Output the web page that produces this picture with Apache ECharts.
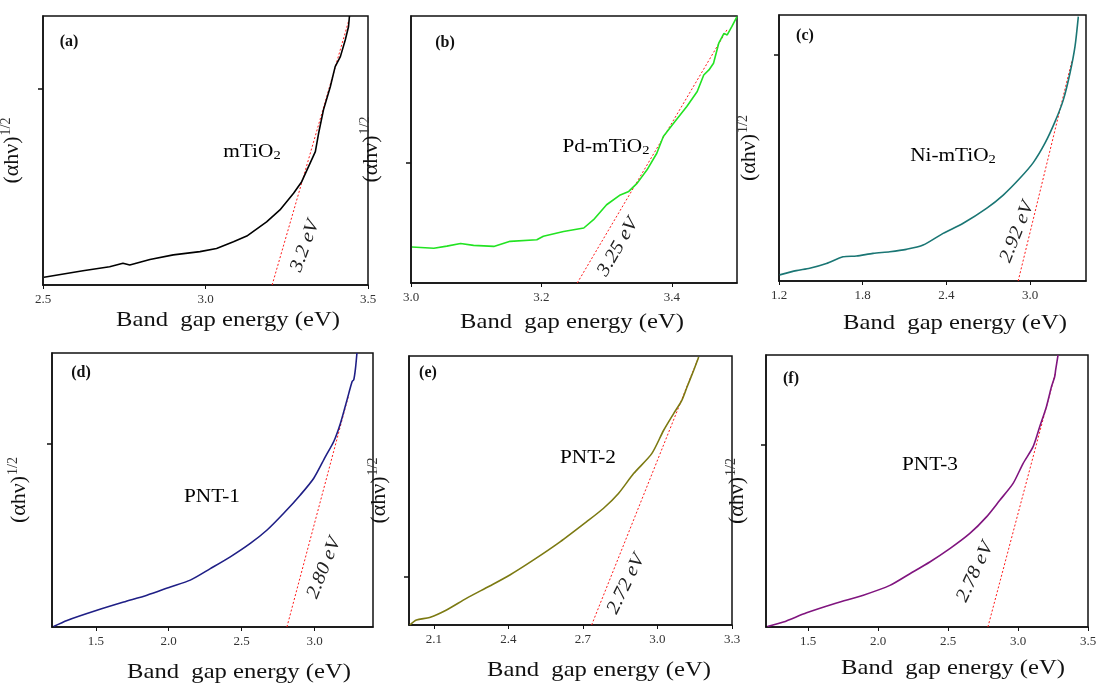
<!DOCTYPE html>
<html>
<head>
<meta charset="utf-8">
<script src="https://cdn.jsdelivr.net/npm/echarts@6/dist/echarts.min.js"></script>
<style>
  html, body { margin: 0; padding: 0; background: #fff; }
  #main { width: 1099px; height: 683px; }
</style>
</head>
<body>
<div id="main"></div>
<script>
// (a) mTiO2
var xA = [2.503, 2.623, 2.705, 2.746, 2.767, 2.829, 2.901, 2.983, 3.034, 3.086, 3.127, 3.188, 3.229, 3.271, 3.296, 3.317, 3.338, 3.348, 3.363, 3.384, 3.399, 3.415, 3.430, 3.440, 3.443];
var yA = [2.9, 5.3, 6.8, 8.1, 7.4, 9.5, 11.2, 12.4, 13.6, 16.1, 18.2, 23.5, 27.9, 34.1, 38.4, 44.0, 49.6, 56.4, 65.1, 73.7, 81.2, 84.9, 91.1, 96.0, 100];
var fitA = [[3.205, 0], [3.44, 98]];
// (b) Pd-mTiO2
var xB = [3.0015, 3.035, 3.055, 3.076, 3.096, 3.127, 3.152, 3.193, 3.203, 3.234, 3.265, 3.280, 3.300, 3.321, 3.334, 3.347, 3.362, 3.377, 3.387, 3.403, 3.423, 3.439, 3.449, 3.457, 3.464, 3.472, 3.480, 3.485, 3.492, 3.500];
var yB = [13.5, 13.0, 13.8, 14.8, 14.1, 13.7, 15.6, 16.2, 17.5, 19.3, 20.6, 23.7, 29.3, 33.0, 34.3, 37.4, 42.4, 48.6, 54.9, 59.9, 66.1, 71.7, 77.9, 79.8, 82.3, 89.8, 93.5, 92.9, 96.0, 99.8];
var fitB = [[3.255, 0], [3.485, 95]];
// (c) Ni-mTiO2
var xC = [1.205, 1.324, 1.420, 1.540, 1.659, 1.755, 1.874, 1.994, 2.113, 2.233, 2.376, 2.520, 2.687, 2.807, 2.926, 3.022, 3.106, 3.178, 3.237, 3.285, 3.321, 3.345];
var yC = [2.3, 3.9, 4.8, 6.6, 9.1, 9.4, 10.4, 11.0, 11.9, 13.5, 17.9, 21.7, 27.3, 32.3, 38.6, 44.5, 51.8, 59.9, 68.0, 78.1, 88.1, 99.4];
var fitC = [[2.914, 0], [3.30, 83]];
// (d) PNT-1
var xD = [1.211, 1.303, 1.508, 1.691, 1.851, 2.011, 2.148, 2.285, 2.422, 2.559, 2.674, 2.788, 2.902, 2.994, 3.074, 3.131, 3.177, 3.222, 3.257, 3.268, 3.279, 3.290];
var yD = [0.2, 2.4, 6.1, 9.1, 11.6, 14.6, 17.1, 21.3, 25.6, 30.5, 35.4, 41.5, 48.2, 54.3, 62.2, 67.7, 74.4, 82.9, 89.6, 90.2, 93.9, 100];
var fitD = [[2.81, 0], [3.23, 84]];
// (e) PNT-2
var xE = [2.003, 2.030, 2.083, 2.151, 2.231, 2.325, 2.406, 2.500, 2.608, 2.715, 2.782, 2.843, 2.904, 2.977, 3.025, 3.065, 3.098, 3.119, 3.146, 3.166];
var yE = [0, 1.9, 2.8, 5.6, 9.9, 14.5, 18.6, 24.1, 30.9, 38.4, 43.3, 48.9, 56.3, 63.7, 72.4, 78.6, 83.5, 88.5, 94.7, 99.6];
var fitE = [[2.735, 0], [3.166, 99.6]];
// (f) PNT-3
var xF = [1.21, 1.324, 1.490, 1.704, 1.895, 2.085, 2.228, 2.370, 2.513, 2.656, 2.775, 2.870, 2.965, 3.036, 3.108, 3.155, 3.203, 3.239, 3.262, 3.269, 3.286];
var yF = [0.2, 1.8, 5.2, 8.8, 11.7, 15.3, 19.6, 23.9, 28.8, 34.4, 40.5, 46.6, 52.8, 60.1, 66.3, 73.6, 81.0, 88.3, 92.0, 94.5, 100];
var fitF = [[2.785, 0], [3.265, 93]];

var panelTags = ['(a)', '(b)', '(c)', '(d)', '(e)', '(f)'];
var sampleNames = ['{n|mTiO}{s|2}', '{n|Pd-mTiO}{s|2}', '{n|Ni-mTiO}{s|2}', '{n|PNT-1}', '{n|PNT-2}', '{n|PNT-3}'];
var gapLabels = ['3.2 eV', '3.25 eV', '2.92 eV', '2.80 eV', '2.72 eV', '2.78 eV'];
var xTicks = [[2.5, 3.0, 3.5], [3.0, 3.2, 3.4], [1.2, 1.8, 2.4, 3.0], [1.5, 2.0, 2.5, 3.0], [2.1, 2.4, 2.7, 3.0, 3.3], [1.5, 2.0, 2.5, 3.0, 3.5]];
var xRange = [[2.5, 3.5], [3.0, 3.5], [1.2, 3.4], [1.2, 3.4], [2.0, 3.3], [1.2, 3.5]];
var yTick = [73, 45, 85, 67, 18, 67];
var xData = [xA, xB, xC, xD, xE, xF];
var yData = [yA, yB, yC, yD, yE, yF];
var fits = [fitA, fitB, fitC, fitD, fitE, fitF];

var colors = ['#000000', '#22e322', '#1a7674', '#1f1f86', '#7c7a12', '#80157f'];
var grids = [
  {left: 43, top: 16, width: 325, height: 269},
  {left: 411, top: 16, width: 326, height: 267},
  {left: 779, top: 15, width: 307, height: 266},
  {left: 52, top: 353, width: 321, height: 274},
  {left: 409, top: 356, width: 323, height: 269},
  {left: 766, top: 355, width: 322, height: 272}
];
var yNameGap = [18, 27, 17, 20, 17, 16];
var titlePos = [[228, 320], [572, 322], [955, 323], [239, 672], [599, 670], [953, 668]];
var tagPos = [[69, 42], [445, 43], [805, 36], [81, 373], [428, 373], [791, 379]];
var namePos = [[252, 152], [606, 147], [953, 156], [212, 497], [588, 458], [930, 465]];
var gapPos = [[305, 246], [618, 247], [1017, 232], [324, 568], [626, 584], [975, 572]];
var gapRot = [70, 60, 68, 68, 64, 65];

var serif = 'Liberation Serif';
var chart = echarts.init(document.getElementById('main'));

var grid = [], xAxis = [], yAxis = [], series = [], graphic = [];
for (var i = 0; i < 6; i++) {
  grid.push(Object.assign({show: true, borderColor: '#111', borderWidth: 1.5, backgroundColor: '#fff',
    containLabel: false, outerBoundsMode: 'none'}, grids[i]));
  xAxis.push({
    type: 'value', gridIndex: i, min: xRange[i][0], max: xRange[i][1],
    axisLine: {show: true, onZero: false, lineStyle: {color: '#111', width: 1.5}},
    axisTick: {show: true, length: 4, customValues: xTicks[i], lineStyle: {color: '#111'}},
    axisLabel: {customValues: xTicks[i], margin: 8, fontFamily: serif, fontSize: 13, color: '#333',
      formatter: function (v) { return v.toFixed(1); }},
    splitLine: {show: false}
  });
  yAxis.push({
    type: 'value', gridIndex: i, min: 0, max: 100,
    name: '{a|(αhν)}{s|1/2}', nameLocation: 'middle', nameRotate: 90, nameGap: yNameGap[i],
    nameTextStyle: {fontFamily: serif, color: '#111', rich: {
      a: {fontFamily: serif, fontSize: 22, color: '#111'},
      s: {fontFamily: serif, fontSize: 14, color: '#333', padding: [0, 0, 12, 1]}
    }},
    axisLine: {show: true, lineStyle: {color: '#111', width: 1.5}},
    axisTick: {show: true, length: 5, customValues: [yTick[i]], lineStyle: {color: '#111', width: 1.5}},
    axisLabel: {show: false},
    splitLine: {show: false}
  });
  series.push({
    type: 'line', xAxisIndex: i, yAxisIndex: i, showSymbol: false,
    smooth: i >= 2 ? 0.25 : false,
    lineStyle: {color: colors[i], width: 1.6},
    data: xData[i].map(function (x, k) { return [x, yData[i][k]]; }),
    z: 3
  });
  series.push({
    type: 'line', xAxisIndex: i, yAxisIndex: i, showSymbol: false,
    lineStyle: {color: '#ff1a1a', width: 1, type: [2, 2]},
    data: fits[i], z: 2
  });
  graphic.push({
    type: 'text', x: titlePos[i][0], y: titlePos[i][1], scaleX: 1.12,
    style: {text: 'Band  gap energy (eV)', font: '22px "Liberation Serif"', fill: '#111', align: 'center', verticalAlign: 'middle'}
  });
  graphic.push({
    type: 'text', x: tagPos[i][0], y: tagPos[i][1],
    style: {text: panelTags[i], font: 'bold 16px "Liberation Serif"', fill: '#111', align: 'center', verticalAlign: 'middle'}
  });
  graphic.push({
    type: 'text', x: namePos[i][0], y: namePos[i][1], scaleX: 1.12,
    style: {text: sampleNames[i], align: 'center', verticalAlign: 'middle',
      rich: {
        n: {fontFamily: serif, fontSize: 19, color: '#111'},
        s: {fontFamily: serif, fontSize: 13, color: '#111', padding: [8, 0, 0, 0]}
      }}
  });
  graphic.push({
    type: 'text', x: gapPos[i][0], y: gapPos[i][1], rotation: gapRot[i] * Math.PI / 180, scaleX: 1.1,
    style: {text: gapLabels[i], font: 'italic 19px "Liberation Serif"', fill: '#222', align: 'center', verticalAlign: 'middle'}
  });
}

chart.setOption({
  animation: false,
  backgroundColor: '#fff',
  grid: grid,
  xAxis: xAxis,
  yAxis: yAxis,
  series: series,
  graphic: graphic
});
</script>
</body>
</html>
